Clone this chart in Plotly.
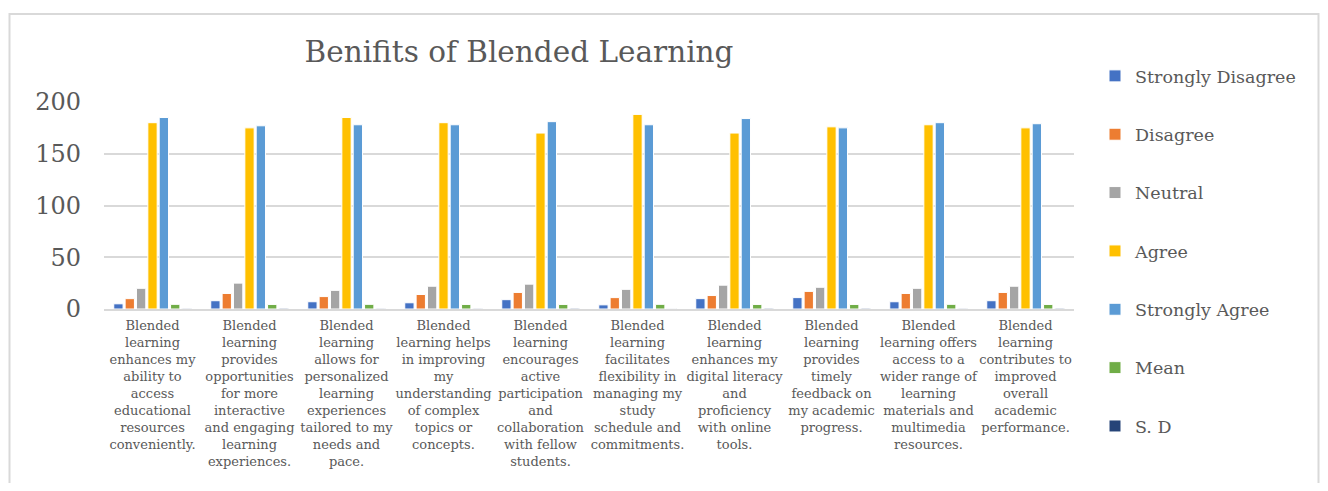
import plotly.graph_objects as go

categories = [
    "Blended<br>learning<br>enhances my<br>ability to<br>access<br>educational<br>resources<br>conveniently.",
    "Blended<br>learning<br>provides<br>opportunities<br>for more<br>interactive<br>and engaging<br>learning<br>experiences.",
    "Blended<br>learning<br>allows for<br>personalized<br>learning<br>experiences<br>tailored to my<br>needs and<br>pace.",
    "Blended<br>learning helps<br>in improving<br>my<br>understanding<br>of complex<br>topics or<br>concepts.",
    "Blended<br>learning<br>encourages<br>active<br>participation<br>and<br>collaboration<br>with fellow<br>students.",
    "Blended<br>learning<br>facilitates<br>flexibility in<br>managing my<br>study<br>schedule and<br>commitments.",
    "Blended<br>learning<br>enhances my<br>digital literacy<br>and<br>proficiency<br>with online<br>tools.",
    "Blended<br>learning<br>provides<br>timely<br>feedback on<br>my academic<br>progress.",
    "Blended<br>learning offers<br>access to a<br>wider range of<br>learning<br>materials and<br>multimedia<br>resources.",
    "Blended<br>learning<br>contributes to<br>improved<br>overall<br>academic<br>performance.",
]

strongly_disagree = [5, 8, 7, 6, 9, 4, 10, 11, 7, 8]
disagree = [10, 15, 12, 14, 16, 11, 13, 17, 15, 16]
neutral = [20, 25, 18, 22, 24, 19, 23, 21, 20, 22]
agree = [180, 175, 185, 180, 170, 188, 170, 176, 178, 175]
strongly_agree = [185, 177, 178, 178, 181, 178, 184, 175, 180, 179]
mean = [4.5, 4.4, 4.5, 4.4, 4.4, 4.5, 4.4, 4.4, 4.5, 4.4]
std_dev = [0.7, 0.8, 0.7, 0.7, 0.8, 0.6, 0.8, 0.8, 0.7, 0.8]

series = [
    ("Strongly Disagree", strongly_disagree, "#4472C4"),
    ("Disagree", disagree, "#ED7D31"),
    ("Neutral", neutral, "#A5A5A5"),
    ("Agree", agree, "#FFC000"),
    ("Strongly Agree", strongly_agree, "#5B9BD5"),
    ("Mean", mean, "#70AD47"),
    ("S. D", std_dev, "#264478"),
]

FONT = "DejaVu Serif"
GREY = "#595959"

fig = go.Figure()
for i, (name, vals, color) in enumerate(series):
    fig.add_trace(go.Bar(
        name=name, x=categories, y=vals,
        marker=dict(color=color, line=dict(color="white", width=1)),
        legendgroup=f"g{i}",
    ))

# page body offset (default 8px margin of the html page)
OFF = 8
W, H = 1328 - 2 * OFF, 491 - 2 * OFF
# plot area in screen pixels
PX0, PX1, PY0, PY1 = 104, 1074, 102, 309
L = PX0 - OFF
R = W - (PX1 - OFF)
T = PY0 - OFF
B = H - (PY1 - OFF)
pw = PX1 - PX0
ph = PY1 - PY0

def px_x(x):
    return (x - PX0) / pw

def px_y(y):
    return (PY1 - y) / ph

fig.update_layout(
    width=W, height=H,
    margin=dict(l=L, r=R, t=T, b=B, autoexpand=False),
    paper_bgcolor="white", plot_bgcolor="white",
    barmode="group", bargap=0.18, bargroupgap=0.18,
    font=dict(family=FONT, color=GREY),
    title=dict(text="Benifits of Blended Learning",
               font=dict(family=FONT, size=29.5, color=GREY),
               x=(519 - OFF) / W, xanchor="center", xref="container",
               y=1 - (52 - OFF) / H, yanchor="middle", yref="container"),
    legend=dict(
        x=px_x(1095), y=px_y(58), xanchor="left", yanchor="top",
        font=dict(family=FONT, size=17.5, color=GREY),
        tracegroupgap=32.6, bgcolor="rgba(0,0,0,0)", maxheight=1,
    ),
    xaxis=dict(
        showgrid=False, showline=True, linecolor="#d9d9d9", linewidth=1.5,
        tickfont=dict(family=FONT, size=13, color=GREY), tickangle=0,
        ticks="", automargin=False, ticklabelstandoff=4,
    ),
    yaxis=dict(
        range=[0, 200], tickvals=[0, 50, 100, 150, 200],
        showgrid=True, gridcolor="#d9d9d9", gridwidth=1.5,
        zeroline=False, showline=False,
        tickfont=dict(family=FONT, size=24, color=GREY),
        ticklabelstandoff=22, automargin=False,
    ),
    shapes=[dict(type="rect", xref="paper", yref="paper",
                 x0=px_x(9.5), x1=px_x(1318.5), y0=px_y(520), y1=px_y(14),
                 line=dict(color="#d9d9d9", width=2), layer="below")],
)

fig.write_html("out.html")
